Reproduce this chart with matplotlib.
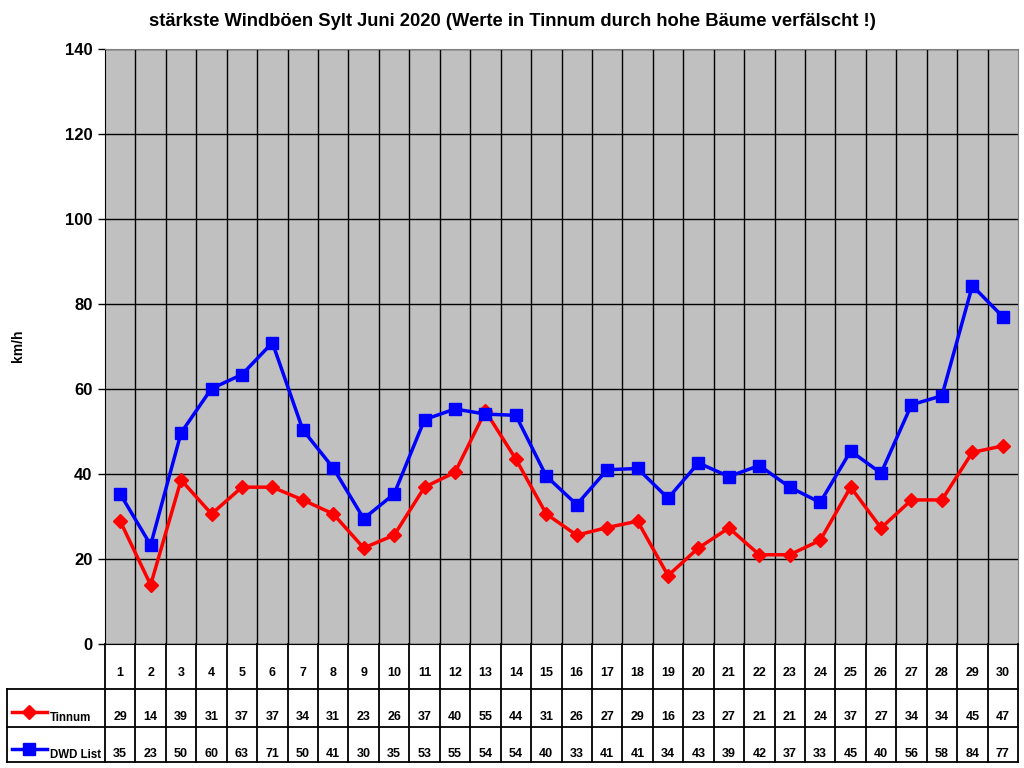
#!/usr/bin/env python3

'''
staerkste Windboeen Sylt Juni 2020 - Tinnum vs DWD List
'''

import matplotlib.pyplot as plt
from matplotlib.lines import Line2D

days = list(range(1, 31))
tinnum = [28.9, 13.9, 38.6, 30.6, 36.9, 36.9, 33.9, 30.6, 22.6, 25.6,
          36.9, 40.4, 54.8, 43.5, 30.6, 25.6, 27.4, 28.9, 16.1, 22.6,
          27.3, 21.0, 21.0, 24.4, 36.9, 27.3, 33.9, 33.9, 45.1, 46.6]
dwd_list = [35.3, 23.3, 49.7, 60.1, 63.4, 70.9, 50.4, 41.4, 29.5, 35.3,
            52.8, 55.3, 54.1, 53.8, 39.5, 32.8, 41.0, 41.3, 34.3, 42.6,
            39.4, 42.0, 36.9, 33.3, 45.4, 40.2, 56.3, 58.4, 84.3, 77.0]
series = [('Tinnum', tinnum, '#ff0000', 'D', 7.5),
          ('DWD List', dwd_list, '#0000ff', 's', 9)]

title = 'stärkste Windböen Sylt Juni 2020 (Werte in Tinnum durch hohe Bäume verfälscht !)'

plt.rcParams['font.family'] = ['Liberation Sans', 'DejaVu Sans']
plt.rcParams['font.weight'] = 'bold'

W, H = 1024, 768
fig = plt.figure(figsize=(10.24, 7.68), dpi=100)

# plot area in pixels: x 105..1018, y 49..644
ax = fig.add_axes([105 / W, 1 - 644 / H, 913 / W, 595 / H])
ax.set_facecolor('#c0c0c0')
for name, vals, col, mk, ms in series:
    ax.plot(days, vals, color=col, lw=2.5, marker=mk, ms=ms,
            markeredgecolor=col, zorder=3)
ax.set_xlim(0.5, 30.5)
ax.set_ylim(0, 140)
ax.set_yticks(range(0, 141, 20))
ax.tick_params(axis='y', labelsize=12, length=5, width=1, pad=4)
ax.set_xticks([d + 0.5 for d in days[:-1]])
ax.tick_params(axis='x', length=0, labelbottom=False)
ax.grid(True, color='black', lw=1, zorder=1)
ax.set_axisbelow(True)
for s in ax.spines.values():
    s.set_color('#808080')
ax.spines['left'].set_color('black')
ax.spines['bottom'].set_color('black')
for lab in ax.get_yticklabels():
    lab.set_fontweight('bold')

fig.text(18 / W, 1 - 346 / H, 'km/h', rotation=90, ha='center', va='center',
         fontsize=10, fontweight='bold')
fig.text(512 / W, 1 - 21 / H, title, ha='center', va='center',
         fontsize=13.2, fontweight='bold')

# data table below the plot, x 6..1018, y 644..762
colw = 913 / 30
left_cols = (105 - 6.5) / colw
tab = fig.add_axes([6.5 / W, 1 - 762 / H, (1018 - 6.5) / W, 118 / H])
tab.set_xlim(0.5 - left_cols, 30.5)
tab.set_ylim(118, 0)
tab.axis('off')

row_y = [0, 44.5, 83, 118]
text_y = [29, 73, 110]
lc = dict(color='black', lw=1.3, clip_on=False)
for d in range(31):
    tab.plot([d + 0.5, d + 0.5], [row_y[0], row_y[3]], **lc)
x0 = 0.5 - left_cols
for y in row_y[1:]:
    tab.plot([x0, 30.5], [y, y], **lc)
tab.plot([x0, x0], [row_y[1], row_y[3]], **lc)

for d in days:
    tab.text(d, text_y[0], str(d), ha='center', va='center', fontsize=9,
             fontweight='bold')
for r, (name, vals, col, mk, ms) in enumerate(series):
    for d, v in zip(days, vals):
        tab.text(d, text_y[r + 1], f'{v:.0f}', ha='center', va='center',
                 fontsize=9, fontweight='bold')
    ly = text_y[r + 1] - 5
    lx0 = x0 + 5 / colw
    lx1 = x0 + 40 / colw
    tab.add_line(Line2D([lx0, lx1], [ly, ly], color=col, lw=2.5,
                        clip_on=False))
    tab.plot([(lx0 + lx1) / 2], [ly], marker=mk, ms=ms, color=col,
             clip_on=False)
    tab.text(x0 + 43 / colw, text_y[r + 1] + 1, name, ha='left',
             va='center', fontsize=8.3, fontweight='bold')

fig.savefig('out.png', dpi=100)
